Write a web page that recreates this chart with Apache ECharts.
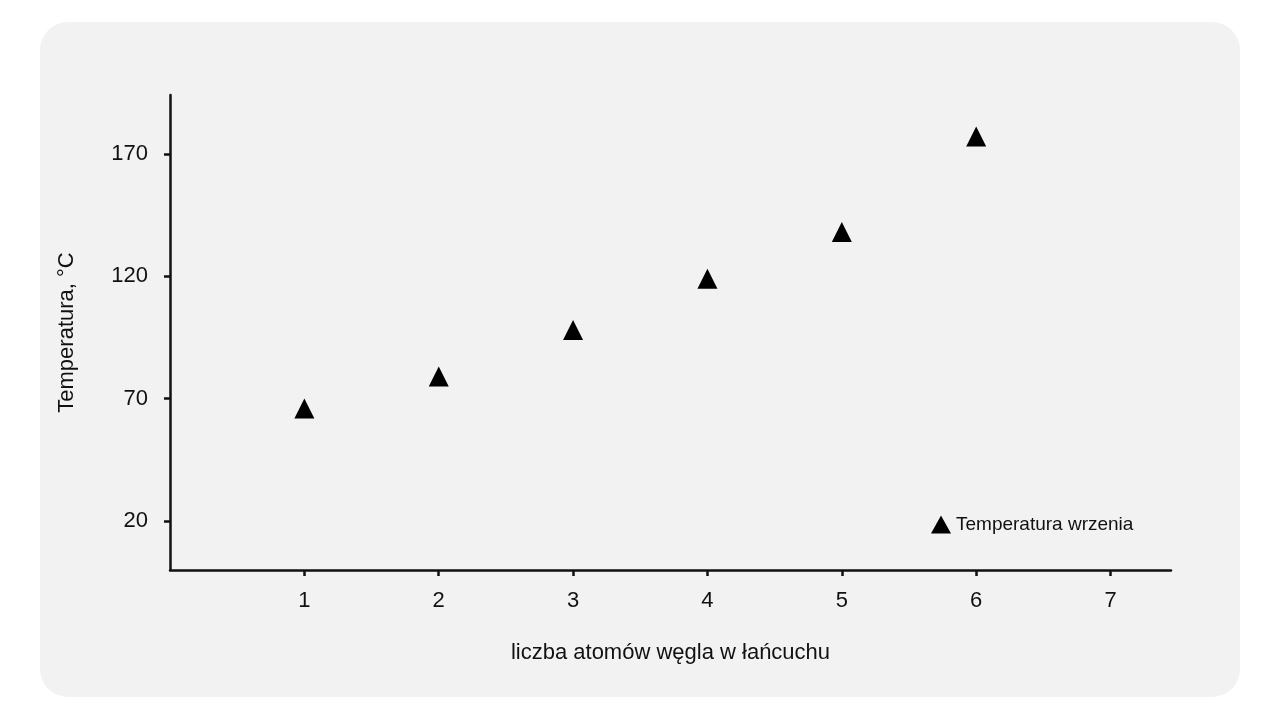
<!DOCTYPE html>
<html>
<head>
<meta charset="utf-8">
<script src="https://cdn.jsdelivr.net/npm/echarts@6/dist/echarts.min.js"></script>
<style>
  html, body { margin: 0; padding: 0; background: #fff; }
  #bg { position: absolute; left: 40px; top: 22px; width: 1200px; height: 675px; background: #f2f2f2; border-radius: 28px; }
  #main { position: absolute; left: 0; top: 0; width: 1280px; height: 720px; }
</style>
</head>
<body>
<div id="bg"></div>
<div id="main"></div>
<script>
// dane
var carbonCount = [1, 2, 3, 4, 5, 6];
var boilingTemp = [66, 79, 98, 119, 138, 177];
var xTicks = [1, 2, 3, 4, 5, 6, 7];
var yTicks = [20, 70, 120, 170];

var chart = echarts.init(document.getElementById('main'));
var font = 'Liberation Sans, Arial, sans-serif';

chart.setOption({
  backgroundColor: 'transparent',
  animation: false,
  textStyle: { fontFamily: font },
  grid: { left: 170, right: 109, top: 95, bottom: 150 },
  legend: {
    left: 926, top: 510,
    itemWidth: 20, itemHeight: 18, itemGap: 6,
    textStyle: { fontSize: 19, color: '#111', fontFamily: font },
    data: [{ name: 'Temperatura wrzenia', icon: 'triangle', itemStyle: { color: '#000', opacity: 1 } }]
  },
  xAxis: {
    type: 'value', min: 0, max: 7.45,
    name: 'liczba atomów węgla w łańcuchu',
    nameLocation: 'middle', nameGap: 72,
    nameTextStyle: { fontSize: 22, color: '#111' },
    axisLine: { lineStyle: { color: '#111', width: 2.5 } },
    axisTick: { customValues: xTicks, length: 6, lineStyle: { color: '#111', width: 2.5 } },
    axisLabel: { customValues: xTicks, fontSize: 22, color: '#111', margin: 20 },
    splitLine: { show: false }
  },
  yAxis: {
    type: 'value', min: 0, max: 194,
    name: 'Temperatura, °C',
    nameLocation: 'middle', nameGap: 92, nameRotate: 90,
    nameTextStyle: { fontSize: 22, color: '#111' },
    axisLine: { show: true, lineStyle: { color: '#111', width: 2.5 } },
    axisTick: { show: true, customValues: yTicks, length: 6, lineStyle: { color: '#111', width: 2.5 } },
    axisLabel: { customValues: yTicks, fontSize: 22, color: '#111', margin: 22 },
    splitLine: { show: false }
  },
  series: [{
    name: 'Temperatura wrzenia',
    type: 'scatter',
    symbol: 'triangle',
    symbolSize: 20,
    itemStyle: { color: '#000', opacity: 1 },
    data: carbonCount.map(function (c, i) { return [c, boilingTemp[i]]; })
  }]
});

window.addEventListener('resize', function () { chart.resize(); });
</script>
</body>
</html>
